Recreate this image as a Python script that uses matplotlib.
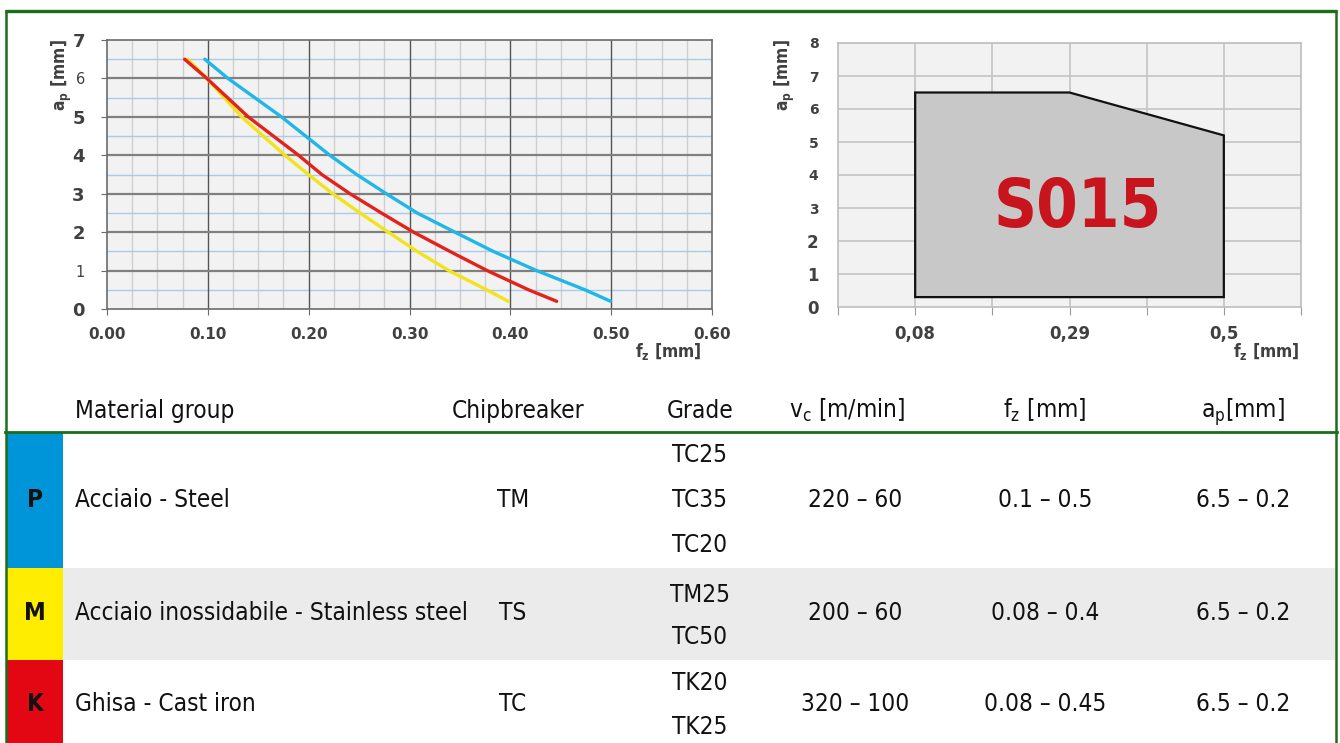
import matplotlib
matplotlib.use('Agg')
import matplotlib.pyplot as plt
from matplotlib import font_manager
from matplotlib.patches import Rectangle, Polygon
import numpy as np

# ---------------- data ----------------
curve_ap = [6.5, 6.0, 5.0, 4.0, 3.5, 3.0, 2.5, 2.0, 1.5, 1.0, 0.5, 0.2]
blue_fz = [0.097, 0.120, 0.173, 0.221, 0.2476, 0.277, 0.3075, 0.345, 0.383, 0.426, 0.474, 0.4995]
red_fz = [0.077, 0.099, 0.140, 0.190, 0.213, 0.241, 0.272, 0.304, 0.340, 0.377, 0.418, 0.446]
yellow_fz = [0.080, 0.099, 0.1335, 0.1765, 0.1997, 0.2238, 0.2509, 0.279, 0.3075, 0.339, 0.3765, 0.398]

region_fz = [0.08, 0.08, 0.29, 0.50, 0.50]
region_ap = [0.3, 6.5, 6.5, 5.2, 0.3]
region_ticks = [-0.025, 0.08, 0.185, 0.29, 0.395, 0.50, 0.605]
region_labels = ['', '0,08', '', '0,29', '', '0,5', '']

left_xticks = [0.0, 0.1, 0.2, 0.3, 0.4, 0.5, 0.6]
left_xlabels = ['0.00', '0.10', '0.20', '0.30', '0.40', '0.50', '0.60']

header = ['Material group', 'Chipbreaker', 'Grade', 'v$_\\mathregular{c}$ [m/min]',
          'f$_\\mathregular{z}$ [mm]', 'a$_\\mathregular{p}$[mm]']
groups = ['P', 'M', 'K']
group_colors = ['#0095d9', '#ffed00', '#e30613']
materials = ['Acciaio - Steel', 'Acciaio inossidabile - Stainless steel', 'Ghisa - Cast iron']
chipbreakers = ['TM', 'TS', 'TC']
grades = [['TC25', 'TC35', 'TC20'], ['TM25', 'TC50'], ['TK20', 'TK25']]
vc = ['220 – 60', '200 – 60', '320 – 100']
fz = ['0.1 – 0.5', '0.08 – 0.4', '0.08 – 0.45']
ap = ['6.5 – 0.2', '6.5 – 0.2', '6.5 – 0.2']

# ---------------- fonts ----------------
names = {f.name for f in font_manager.fontManager.ttflist}
if 'Liberation Sans Narrow' in names:
    NARROW = dict(family='Liberation Sans Narrow')
else:
    NARROW = dict(family='DejaVu Sans', stretch='condensed')

W, H = 1340, 743
fig = plt.figure(figsize=(W / 100, H / 100), dpi=100)
fig.patch.set_facecolor('white')

# background axes in pixel coordinates
bg = fig.add_axes([0, 0, 1, 1])
bg.set_xlim(0, W)
bg.set_ylim(H, 0)
bg.axis('off')

GREEN = '#1b6e1b'
row_bounds = [(433, 568), (568, 660), (660, 745)]
bg.add_patch(Rectangle((63, 568), 1273, 92, color='#ebebeb', lw=0))
for (y0, y1), c in zip(row_bounds, group_colors):
    bg.add_patch(Rectangle((6, y0), 57, y1 - y0, color=c, lw=0))
bg.plot([5, 1337], [11, 11], color=GREEN, lw=2.4, solid_capstyle='butt')
bg.plot([6, 6], [11, 745], color=GREEN, lw=1.8)
bg.plot([1336, 1336], [11, 745], color=GREEN, lw=1.8)
bg.plot([5, 1337], [432, 432], color=GREEN, lw=2.0)

TS = 17.5
TXT = '#111111'
hx = [75, 518, 700, 847, 1045, 1243]
for i, (x, t) in enumerate(zip(hx, header)):
    bg.text(x, 418, t, ha='left' if i == 0 else 'center', va='baseline', fontsize=TS, color=TXT, **NARROW)

row_centers = [500, 613, 704]
grade_ys = [[455, 500, 545], [595, 637], [683, 727]]
for i in range(3):
    yc = row_centers[i]
    bg.text(35, yc, groups[i], ha='center', va='center', fontsize=TS, fontweight='bold', color='#111111', **NARROW)
    bg.text(75, yc, materials[i], ha='left', va='center', fontsize=TS, color=TXT, **NARROW)
    bg.text(513, yc, chipbreakers[i], ha='center', va='center', fontsize=TS, color=TXT, **NARROW)
    for g, gy in zip(grades[i], grade_ys[i]):
        bg.text(700, gy, g, ha='center', va='center', fontsize=TS, color=TXT, **NARROW)
    bg.text(855, yc, vc[i], ha='center', va='center', fontsize=TS, color=TXT, **NARROW)
    bg.text(1045, yc, fz[i], ha='center', va='center', fontsize=TS, color=TXT, **NARROW)
    bg.text(1243, yc, ap[i], ha='center', va='center', fontsize=TS, color=TXT, **NARROW)

GRAY_TXT = '#404040'

def px_axes(x0, x1, y0, y1):
    return fig.add_axes([x0 / W, 1 - y1 / H, (x1 - x0) / W, (y1 - y0) / H])

# ---------------- left chart ----------------
ax = px_axes(107, 712, 40, 309)
ax.set_facecolor('#f2f2f2')
ax.set_xlim(0, 0.6)
ax.set_ylim(0, 7)
for xv in np.arange(0, 0.6001, 0.025):
    if abs(xv / 0.1 - round(xv / 0.1)) > 1e-6:
        ax.axvline(xv, color='#cfcfcf', lw=1.0, zorder=1)
for xv in left_xticks[1:-1]:
    ax.axvline(xv, color='#555555', lw=1.0, zorder=1.2)
for yv in np.arange(0.5, 7, 1.0):
    ax.axhline(yv, color='#a9cbe8', lw=1.0, zorder=1.1)
for yv in range(1, 7):
    ax.axhline(yv, color='#808080', lw=1.6, zorder=1.3)
for s in ax.spines.values():
    s.set_color('#6b6b6b')
    s.set_linewidth(1.2)
ax.plot(yellow_fz, curve_ap, color='#f2e31b', lw=2.4, zorder=3, solid_capstyle='round', solid_joinstyle='round')
ax.plot(red_fz, curve_ap, color='#e3221c', lw=2.4, zorder=4, solid_capstyle='round', solid_joinstyle='round')
ax.plot(blue_fz, curve_ap, color='#1fb6e8', lw=2.4, zorder=5, solid_capstyle='round', solid_joinstyle='round')
ax.set_xticks(left_xticks)
ax.set_xticklabels(left_xlabels)
ax.set_yticks(range(0, 8))
ax.tick_params(axis='both', length=4, color='#6b6b6b', labelcolor=GRAY_TXT)
ax.tick_params(axis='x', pad=9)
ax.tick_params(axis='y', pad=12)
for lab in ax.get_xticklabels():
    lab.set_fontsize(11); lab.set_fontweight('bold'); lab.set_family(NARROW['family'])
for lab in ax.get_yticklabels():
    lab.set_family(NARROW['family'])
    if lab.get_text() in ('6', '1'):
        lab.set_fontsize(10.5)
    else:
        lab.set_fontsize(13); lab.set_fontweight('bold')
fig.text(62 / W, 1 - 75 / H, 'a$_\\mathregular{p}$ [mm]', rotation=90, ha='center', va='center',
         fontsize=12.5, fontweight='bold', color=GRAY_TXT, **NARROW)
fig.text(668 / W, 1 - 352 / H, 'f$_\\mathregular{z}$ [mm]', ha='center', va='center',
         fontsize=12.5, fontweight='bold', color=GRAY_TXT, **NARROW)

# ---------------- right chart ----------------
ax2 = px_axes(838, 1301, 43, 307)
ax2.set_facecolor('#f2f2f2')
ax2.set_xlim(region_ticks[0], region_ticks[-1])
ax2.set_ylim(0, 8)
for xv in region_ticks[1:-1]:
    ax2.axvline(xv, color='#c4c4c4', lw=1.2, zorder=1)
for yv in range(1, 8):
    ax2.axhline(yv, color='#c4c4c4', lw=1.2, zorder=1)
for s in ax2.spines.values():
    s.set_color('#bdbdbd')
    s.set_linewidth(1.2)
ax2.add_patch(Polygon(list(zip(region_fz, region_ap)), closed=True, facecolor='#c8c8c8',
                      edgecolor='#111111', lw=1.6, zorder=3))
ax2.text(0.302, 3.0, 'S015', ha='center', va='center', fontsize=48, fontweight='bold',
         color='#c8141c', zorder=4, **NARROW)
ax2.set_xticks(region_ticks)
ax2.set_xticklabels(region_labels)
ax2.set_yticks(range(0, 9))
ax2.tick_params(axis='x', length=6, color='#9a9a9a', labelcolor=GRAY_TXT, pad=7)
ax2.tick_params(axis='y', length=0, labelcolor=GRAY_TXT, pad=14)
for lab in ax2.get_xticklabels():
    lab.set_fontsize(12); lab.set_fontweight('bold'); lab.set_family(NARROW['family'])
for lab in ax2.get_yticklabels():
    lab.set_family(NARROW['family']); lab.set_fontweight('bold')
    lab.set_fontsize(12 if lab.get_text() in ('0', '1', '2') else 10)
fig.text(785 / W, 1 - 75 / H, 'a$_\\mathregular{p}$ [mm]', rotation=90, ha='center', va='center',
         fontsize=12.5, fontweight='bold', color=GRAY_TXT, **NARROW)
fig.text(1266 / W, 1 - 352 / H, 'f$_\\mathregular{z}$ [mm]', ha='center', va='center',
         fontsize=12.5, fontweight='bold', color=GRAY_TXT, **NARROW)

fig.savefig('out.png', dpi=100)
